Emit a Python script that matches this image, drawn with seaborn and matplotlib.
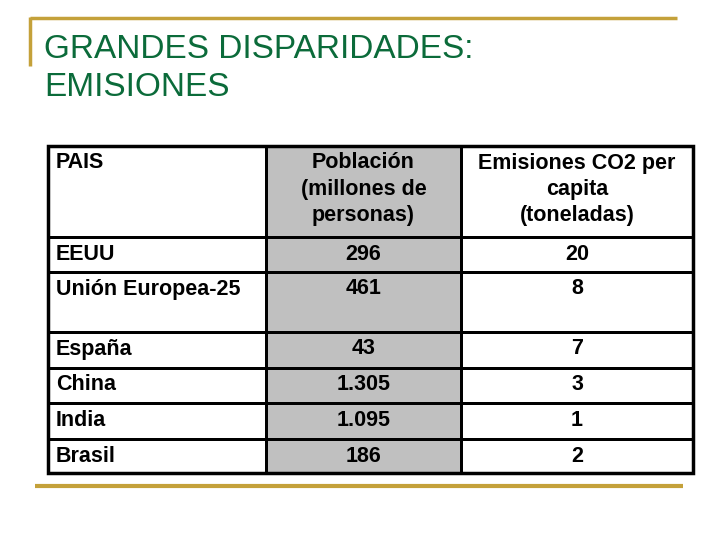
import matplotlib.pyplot as plt
import numpy as np
import seaborn as sns
from matplotlib.colors import ListedColormap
from matplotlib.patches import Rectangle

TITLE_LINES = ["GRANDES DISPARIDADES:", "EMISIONES"]
HEADERS = [
    ["PAIS"],
    ["Población", "(millones de", "personas)"],
    ["Emisiones CO2 per", "capita", "(toneladas)"],
]
COUNTRIES = ["EEUU", "Unión Europea-25", "España", "China", "India", "Brasil"]
POPULATION = [296, 461, 43, 1305, 1095, 186]
CO2_PER_CAPITA = [20, 8, 7, 3, 1, 2]

# layout in pixels (table axes units)
COL_WIDTHS = [218, 195, 232]
ROW_HEIGHTS = [91, 35, 60, 36, 35, 36, 34]
GREEN = "#0B6B3A"
GOLD = "#C4A13A"
GREY = "#C0C0C0"
FONT = ["Liberation Sans", "DejaVu Sans"]


def fmt_es(n: int) -> str:
    return f"{n:,}".replace(",", ".")


sns.set_theme(style="white")
plt.rcParams["font.family"] = FONT

fig = plt.figure(figsize=(7.2, 5.4), dpi=100)

# decoration layer in pixel coordinates
bg = fig.add_axes([0, 0, 1, 1])
bg.set_xlim(0, 720)
bg.set_ylim(540, 0)
bg.axis("off")
bg.plot([30, 677], [18, 18], color=GOLD, lw=2.5, solid_capstyle="butt")
bg.plot([30, 30], [17, 66], color=GOLD, lw=2.5, solid_capstyle="butt")
bg.plot([35, 683], [486, 486], color=GOLD, lw=3, solid_capstyle="butt")
for i, line in enumerate(TITLE_LINES):
    bg.text(44, 58 + i * 38, line, color=GREEN, fontsize=24, ha="left", va="baseline")

# table
ax = fig.add_axes([48 / 720, 1 - 473 / 540, 645 / 720, 327 / 540])
col_edges = np.concatenate([[0], np.cumsum(COL_WIDTHS)])
row_edges = np.concatenate([[0], np.cumsum(ROW_HEIGHTS)])
shade = np.zeros((len(ROW_HEIGHTS), len(COL_WIDTHS)))
shade[:, 1] = 1
ax.pcolormesh(col_edges, row_edges, shade, cmap=ListedColormap(["white", GREY]),
              edgecolors="black", linewidth=1)
ax.set_xlim(0, col_edges[-1])
ax.set_ylim(row_edges[-1], 0)
ax.axis("off")
ax.add_patch(Rectangle((0, 0), col_edges[-1], row_edges[-1], fill=False,
                       edgecolor="black", lw=2.5, clip_on=False))

text_kw = dict(color="black", fontsize=15.5, fontweight="bold", va="center")
ax.text(8, 16, HEADERS[0][0], ha="left", **text_kw)
for j in (1, 2):
    cx = (col_edges[j] + col_edges[j + 1]) / 2
    for k, line in enumerate(HEADERS[j]):
        ax.text(cx, 17 + k * 26.5, line, ha="center", **text_kw)

for i, (country, pop, co2) in enumerate(zip(COUNTRIES, POPULATION, CO2_PER_CAPITA)):
    y = row_edges[i + 1] + 17
    ax.text(8, y, country, ha="left", **text_kw)
    ax.text((col_edges[1] + col_edges[2]) / 2, y, fmt_es(pop), ha="center", **text_kw)
    ax.text((col_edges[2] + col_edges[3]) / 2, y, str(co2), ha="center", **text_kw)

fig.savefig("out.png", dpi=100)
